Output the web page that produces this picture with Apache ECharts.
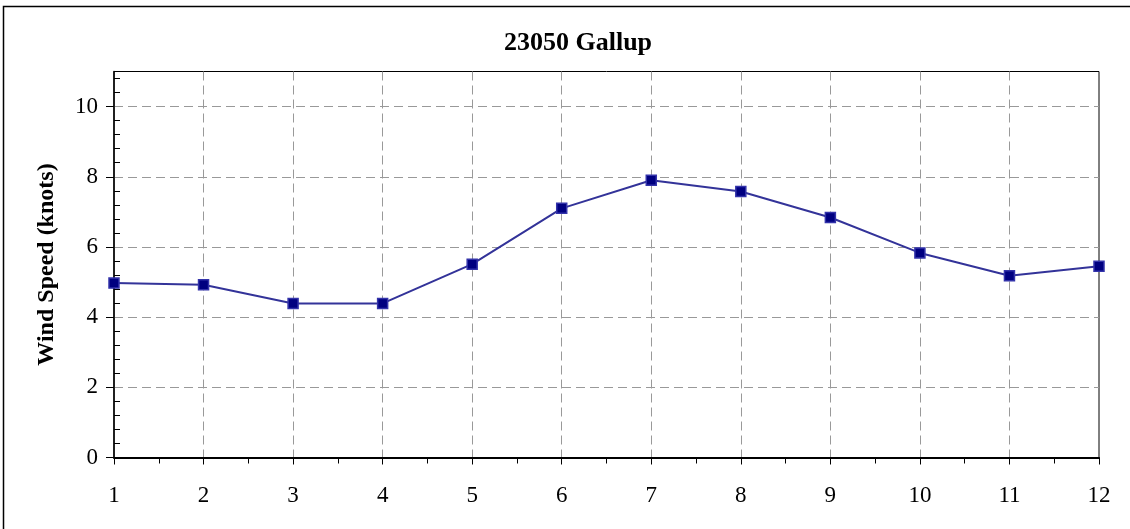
<!DOCTYPE html>
<html>
<head>
<meta charset="utf-8">
<script src="https://cdn.jsdelivr.net/npm/echarts@6/dist/echarts.min.js"></script>
<style>
html,body{margin:0;padding:0;background:#fff;}
#c{width:1130px;height:529px;}
</style>
</head>
<body>
<div id="c"></div>
<script>
const titleText = '23050 Gallup';
const yAxisName = 'Wind Speed (knots)';
const hours = [1,2,3,4,5,6,7,8,9,10,11,12];
const windSpeed = [4.97,4.92,4.39,4.39,5.51,7.10,7.90,7.58,6.84,5.83,5.18,5.45];

const FONT = '"Liberation Serif","Times New Roman",serif';
const chart = echarts.init(document.getElementById('c'), null, {renderer:'canvas'});
chart.setOption({
  animation:false,
  backgroundColor:'#fff',
  title:{text:titleText,left:573,textAlign:'center',top:25,
    textStyle:{fontFamily:FONT,fontWeight:'bold',fontSize:26,color:'#000'}},
  graphic:[{type:'rect',shape:{x:3.5,y:6.5,width:1200,height:600},
    style:{fill:null,stroke:'#000',lineWidth:1.5},silent:true,z:-1}],
  grid:{left:114,right:31,top:71.5,bottom:71.5,show:true,borderColor:'#000',borderWidth:1,backgroundColor:'transparent'},
  xAxis:[{type:'value',min:1,max:12,interval:1,
    axisLine:{lineStyle:{color:'#000',width:2}},
    axisTick:{show:true,length:7,inside:false,lineStyle:{color:'#000',width:1}},
    axisLabel:{fontFamily:FONT,fontSize:23,color:'#000',margin:27},
    splitLine:{show:true,showMinLine:false,showMaxLine:false,lineStyle:{color:'#999',type:[9,5],width:1}}},
   {type:'value',min:1,max:12,interval:1,position:'bottom',
    axisLine:{show:false},
    axisTick:{show:false},
    minorTick:{show:true,splitNumber:2,length:6,lineStyle:{color:'#000',width:1}},
    axisLabel:{show:false},splitLine:{show:false}}],
  yAxis:[{type:'value',min:0,max:11,interval:2,
    name:yAxisName,nameLocation:'middle',nameGap:55,nameRotate:90,
    nameTextStyle:{fontFamily:FONT,fontWeight:'bold',fontSize:24,color:'#000'},
    axisLine:{show:true,lineStyle:{color:'#000',width:1.5}},
    axisTick:{show:true,length:8,inside:false,lineStyle:{color:'#000',width:1}},
    axisLabel:{fontFamily:FONT,fontSize:23,color:'#000',margin:16,showMaxLabel:false},
    splitLine:{show:true,showMinLine:false,showMaxLine:false,lineStyle:{color:'#999',type:[9,5],width:1}}},
   {type:'value',min:0,max:11,interval:2,position:'left',
    axisLine:{show:false},
    axisTick:{show:true,inside:true,length:0},
    minorTick:{show:true,splitNumber:5,length:6,lineStyle:{color:'#000',width:1}},
    axisLabel:{show:false},splitLine:{show:false}}],
  series:[{type:'line',data:hours.map((h,i)=>[h,windSpeed[i]]),
    lineStyle:{color:'#333399',width:2},
    symbol:'rect',symbolSize:10,
    itemStyle:{color:'#000080',borderColor:'#3333aa',borderWidth:1.5},
    z:5}]
});
</script>
</body>
</html>
